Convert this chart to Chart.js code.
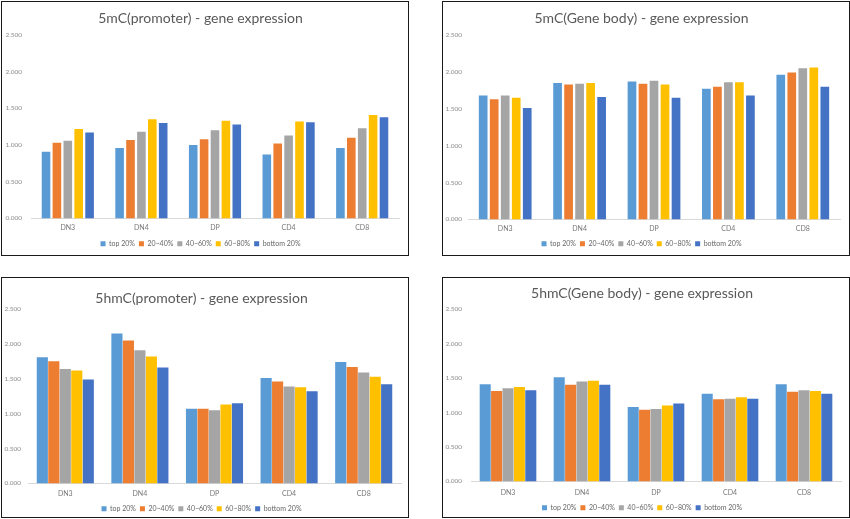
<!DOCTYPE html>
<html>
<head>
<meta charset="utf-8">
<script src="https://cdn.jsdelivr.net/npm/chart.js@4"></script>
<style>
  html, body { margin: 0; padding: 0; background: #ffffff; }
  body { width: 850px; height: 519px; position: relative; overflow: hidden; }
  .panel { position: absolute; border: 1px solid #1a1a1a; box-sizing: border-box; background: #fff; overflow: hidden; }
  .panel canvas { position: absolute; left: 0; top: 0; }
</style>
</head>
<body>
<div class="panel" id="b1" style="left:1px;top:1px;width:408px;height:255px;"><canvas id="c1"></canvas></div>
<div class="panel" id="b2" style="left:442px;top:1px;width:408px;height:255px;"><canvas id="c2"></canvas></div>
<div class="panel" id="b3" style="left:1px;top:277px;width:408px;height:241px;"><canvas id="c3"></canvas></div>
<div class="panel" id="b4" style="left:442px;top:277px;width:408px;height:241px;"><canvas id="c4"></canvas></div>
<script>
// ---------- data ----------
const categories = ["DN3", "DN4", "DP", "CD4", "CD8"];
const seriesLabels = ["top 20%", "20~40%", "40~60%", "60~80%", "bottom 20%"];
const yTicks = [0, 0.5, 1.0, 1.5, 2.0, 2.5];

// 5mC (promoter)
const mcPromoterTop20   = [0.91, 0.96, 1.00, 0.87, 0.96];
const mcPromoter20to40  = [1.03, 1.07, 1.08, 1.02, 1.10];
const mcPromoter40to60  = [1.06, 1.18, 1.20, 1.13, 1.23];
const mcPromoter60to80  = [1.22, 1.35, 1.33, 1.32, 1.41];
const mcPromoterBottom  = [1.17, 1.30, 1.28, 1.31, 1.38];

// 5mC (Gene body)
const mcBodyTop20   = [1.68, 1.85, 1.87, 1.77, 1.96];
const mcBody20to40  = [1.63, 1.83, 1.84, 1.80, 1.99];
const mcBody40to60  = [1.68, 1.84, 1.88, 1.86, 2.05];
const mcBody60to80  = [1.65, 1.85, 1.83, 1.86, 2.06];
const mcBodyBottom  = [1.51, 1.66, 1.65, 1.68, 1.80];

// 5hmC (promoter)
const hmcPromoterTop20  = [1.81, 2.15, 1.07, 1.51, 1.74];
const hmcPromoter20to40 = [1.75, 2.05, 1.07, 1.46, 1.67];
const hmcPromoter40to60 = [1.64, 1.91, 1.05, 1.39, 1.59];
const hmcPromoter60to80 = [1.62, 1.82, 1.13, 1.38, 1.53];
const hmcPromoterBottom = [1.49, 1.66, 1.15, 1.32, 1.42];

// 5hmC (Gene body)
const hmcBodyTop20  = [1.41, 1.51, 1.08, 1.27, 1.41];
const hmcBody20to40 = [1.31, 1.40, 1.04, 1.19, 1.30];
const hmcBody40to60 = [1.35, 1.45, 1.05, 1.20, 1.32];
const hmcBody60to80 = [1.37, 1.46, 1.10, 1.22, 1.31];
const hmcBodyBottom = [1.32, 1.40, 1.13, 1.20, 1.27];

const titles = [
  "5mC(promoter) - gene expression",
  "5mC(Gene body) - gene expression",
  "5hmC(promoter) - gene expression",
  "5hmC(Gene body) - gene expression"
];

// ---------- styling ----------
const colors = ["#5B9BD5", "#ED7D31", "#A5A5A5", "#FFC000", "#4472C4"];
const FONT = "Lato, 'Liberation Sans', sans-serif";

// layout per panel (canvas coords inside border)
const layouts = [
  { w: 406, h: 253, left: 29, right: 397, yPad: 9, tTop: 8.3, tBot: 7.9, xAxisH: 17.8, xPad: 4.8, bottom: -2.2, cat: 0.74, bar: 0.79 },
  { w: 406, h: 253, left: 25, right: 397, yPad: 6, tTop: 8.3, tBot: 7.9, xAxisH: 16.8, xPad: 4.8, bottom: -2.2, cat: 0.74, bar: 0.79 },
  { w: 406, h: 239, left: 26, right: 399, yPad: 7, tTop: 12.3, tBot: 1.9, xAxisH: 17.8, xPad: 5.8, bottom: -5.2, cat: 0.77, bar: 0.97 },
  { w: 406, h: 239, left: 28, right: 398, yPad: 9, tTop: 7.3, tBot: 6.9, xAxisH: 18.8, xPad: 6.8, bottom: -4.2, cat: 0.77, bar: 0.97 }
];

const panelSeries = [
  [mcPromoterTop20, mcPromoter20to40, mcPromoter40to60, mcPromoter60to80, mcPromoterBottom],
  [mcBodyTop20, mcBody20to40, mcBody40to60, mcBody60to80, mcBodyBottom],
  [hmcPromoterTop20, hmcPromoter20to40, hmcPromoter40to60, hmcPromoter60to80, hmcPromoterBottom],
  [hmcBodyTop20, hmcBody20to40, hmcBody40to60, hmcBody60to80, hmcBodyBottom]
];

function makeChart(idx) {
  const L = layouts[idx];
  const canvas = document.getElementById("c" + (idx + 1));
  canvas.width = L.w; canvas.height = L.h;
  canvas.style.width = L.w + "px"; canvas.style.height = L.h + "px";
  const datasets = panelSeries[idx].map((vals, i) => ({
    label: seriesLabels[i],
    data: vals,
    backgroundColor: colors[i],
    borderWidth: 0,
    categoryPercentage: L.cat,
    barPercentage: L.bar
  }));
  return new Chart(canvas, {
    type: "bar",
    data: { labels: categories, datasets },
    options: {
      responsive: false,
      animation: false,
      devicePixelRatio: 1,
      layout: { padding: { left: 0, right: L.w - L.right, top: 0, bottom: L.bottom } },
      plugins: {
        title: {
          display: true,
          text: titles[idx],
          color: "#595959",
          font: { family: FONT, size: 14, weight: "normal" },
          padding: { top: L.tTop, bottom: L.tBot }
        },
        legend: {
          display: true,
          position: "bottom",
          labels: {
            boxWidth: 5, boxHeight: 5,
            color: "#666666",
            font: { family: FONT, size: 7 },
            padding: 4
          }
        },
        tooltip: { enabled: false }
      },
      scales: {
        x: {
          grid: { display: false, drawTicks: false },
          border: { display: true, color: "#D9D9D9" },
          ticks: { color: "#777777", font: { family: FONT, size: 7 }, padding: L.xPad },
          afterFit: (s) => { s.height = L.xAxisH; }
        },
        y: {
          min: 0, max: 2.5,
          afterBuildTicks: (s) => { s.ticks = yTicks.map(v => ({ value: v })); },
          grid: { display: false, drawTicks: false },
          border: { display: false },
          ticks: {
            color: "#8C8C8C",
            font: { family: FONT, size: 6.5 },
            padding: L.yPad,
            callback: (v) => Number(v).toFixed(3)
          },
          afterFit: (s) => { s.width = L.left; }
        }
      }
    }
  });
}

for (let i = 0; i < 4; i++) makeChart(i);
</script>
</body>
</html>
